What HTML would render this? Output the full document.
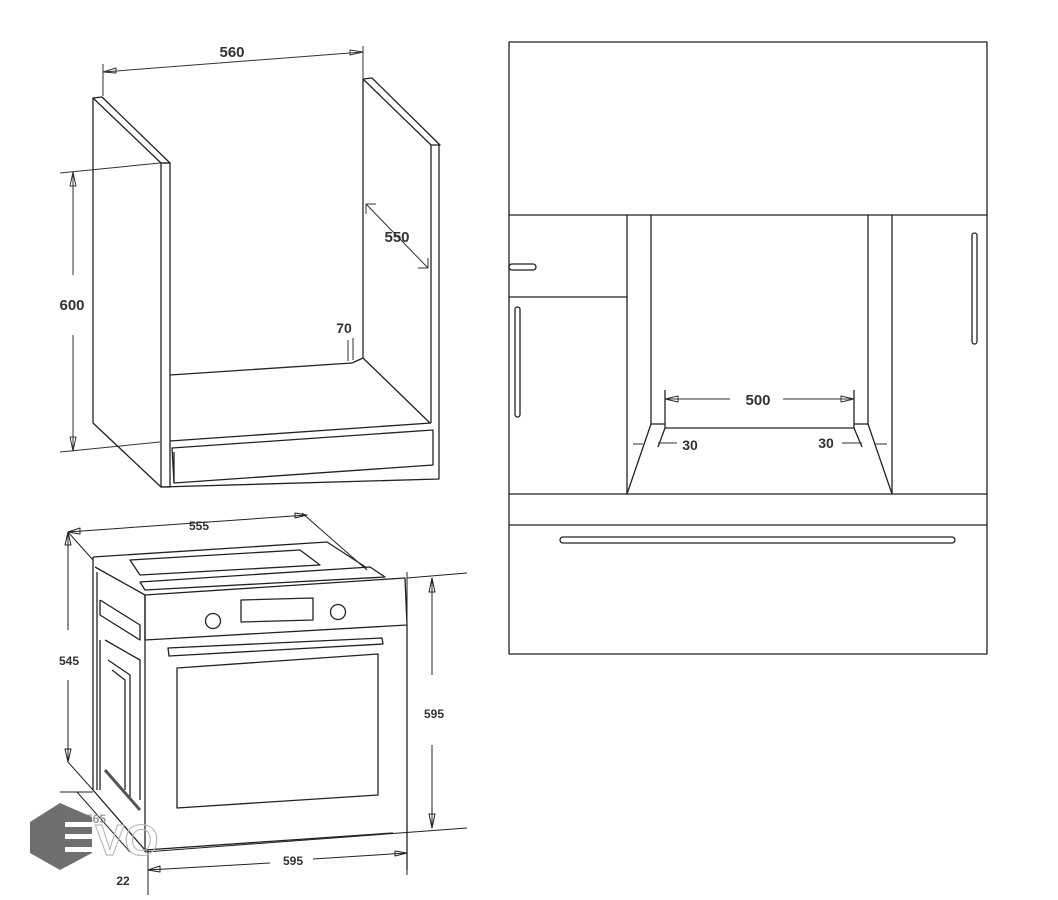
<!DOCTYPE html>
<html><head><style>
html,body{margin:0;padding:0;background:#fff;}
svg{display:block;}
text{font-family:"Liberation Sans",sans-serif;font-weight:bold;fill:#333;}
</style></head><body>
<svg width="1058" height="900" viewBox="0 0 1058 900" xmlns="http://www.w3.org/2000/svg">
<g fill="none" stroke="#222" stroke-width="1.3" stroke-linejoin="round">
<polygon points="93,98 102,97 170,163 161,163"/>
<polyline points="93,98 93,423 161,487"/>
<rect x="161" y="163" width="9" height="324"/>
<polyline points="161,487 439,479 439,145"/>
<polygon points="363,79 372,78 440,145 431,145"/>
<line x1="431" y1="145" x2="431" y2="423"/>
<line x1="363" y1="79" x2="363" y2="358"/>
<line x1="170" y1="375" x2="352" y2="363"/>
<line x1="352" y1="363" x2="363" y2="358"/>
<line x1="363" y1="358" x2="430" y2="423"/>
<line x1="170" y1="441" x2="431" y2="423"/>
<polygon points="172,448 433,430 433,465 174,483"/>
<line x1="174" y1="452" x2="174" y2="483"/>
<g stroke-width="1" stroke="#333">
<line x1="103" y1="72" x2="363" y2="52"/>
<line x1="103" y1="64" x2="103" y2="96"/>
<line x1="363" y1="46" x2="363" y2="78"/>
<polygon points="103,72 116,68 116,73"/>
<polygon points="363,52 350,50 350,55"/>
<line x1="60" y1="173" x2="160" y2="163"/>
<line x1="60" y1="452" x2="160" y2="442"/>
<line x1="73" y1="172" x2="73" y2="275"/>
<line x1="73" y1="335" x2="73" y2="451"/>
<polygon points="73,172 70,186 76,186"/>
<polygon points="73,451 70,437 76,437"/>
<line x1="366" y1="204" x2="428" y2="268"/>
<polyline points="366,214 366,204 376,204"/>
<polyline points="418,268 428,268 428,258"/>
<line x1="348" y1="340" x2="348" y2="361"/>
<line x1="353" y1="338" x2="353" y2="360"/>
</g>
<rect x="509" y="42" width="478" height="612"/>
<line x1="509" y1="215" x2="987" y2="215"/>
<line x1="509" y1="297" x2="627" y2="297"/>
<line x1="509" y1="494" x2="987" y2="494"/>
<line x1="509" y1="525" x2="987" y2="525"/>
<line x1="627" y1="215" x2="627" y2="494"/>
<line x1="651" y1="215" x2="651" y2="424"/>
<line x1="868" y1="215" x2="868" y2="424"/>
<line x1="892" y1="215" x2="892" y2="494"/>
<line x1="651" y1="424" x2="665" y2="424"/>
<line x1="854" y1="424" x2="868" y2="424"/>
<line x1="665" y1="428" x2="854" y2="428"/>
<line x1="651" y1="424" x2="627" y2="494"/>
<line x1="868" y1="424" x2="892" y2="494"/>
<line x1="665" y1="428" x2="658" y2="447"/>
<line x1="854" y1="428" x2="862" y2="447"/>
<line x1="665" y1="390" x2="665" y2="428"/>
<line x1="854" y1="390" x2="854" y2="428"/>
<rect x="509" y="264" width="27" height="6" rx="3"/>
<rect x="515" y="307" width="5" height="110" rx="2.5"/>
<rect x="972" y="233" width="5" height="111" rx="2.5"/>
<rect x="560" y="537" width="395" height="6" rx="3"/>
<g stroke-width="1" stroke="#333">
<line x1="665" y1="399" x2="730" y2="399"/>
<line x1="783" y1="399" x2="854" y2="399"/>
<polygon points="665,399 678,396 678,402"/>
<polygon points="854,399 841,396 841,402"/>
<line x1="633" y1="444" x2="643" y2="444"/>
<line x1="658" y1="443" x2="677" y2="443"/>
<line x1="842" y1="443" x2="862" y2="443"/>
<line x1="875" y1="444" x2="887" y2="444"/>
</g>
<g stroke-width="1">
<line x1="68" y1="532" x2="307" y2="515"/>
<line x1="68" y1="532" x2="93" y2="560"/>
<line x1="302" y1="513" x2="367" y2="570"/>
<polygon points="68,532 80,528 80,534"/>
<polygon points="307,515 295,513 295,518"/>
<line x1="68" y1="532" x2="68" y2="630"/>
<line x1="68" y1="680" x2="68" y2="762"/>
<polygon points="68,532 65,545 71,545"/>
<polygon points="68,762 65,749 71,749"/>
<line x1="68" y1="762" x2="93" y2="790"/>
<line x1="407" y1="578" x2="467" y2="573"/>
<line x1="145" y1="852" x2="467" y2="828"/>
<line x1="432" y1="578" x2="432" y2="675"/>
<line x1="432" y1="745" x2="432" y2="828"/>
<polygon points="432,578 429,592 435,592"/>
<polygon points="432,828 429,814 435,814"/>
<line x1="148" y1="870" x2="270" y2="863"/>
<line x1="313" y1="859" x2="407" y2="853"/>
<polygon points="148,870 160,866 160,872"/>
<polygon points="407,853 395,851 395,856"/>
<line x1="407" y1="572" x2="407" y2="875"/>
<line x1="148" y1="850" x2="148" y2="895"/>
<line x1="60" y1="792" x2="93" y2="792"/>
<line x1="77" y1="792" x2="130" y2="852"/>
</g>
<polyline points="93,557 327,542 367,568"/>
<line x1="93" y1="557" x2="93" y2="790"/>
<line x1="93" y1="790" x2="145" y2="850"/>
<line x1="95" y1="567" x2="145" y2="595"/>
<line x1="97" y1="572" x2="97" y2="790"/>
<polygon points="130,560 300,550 320,565 140,575"/>
<polygon points="140,582 370,567 385,577 145,590"/>
<polygon points="145,595 405,578 407,625 145,640"/>
<line x1="145" y1="595" x2="145" y2="852"/>
<line x1="407" y1="625" x2="407" y2="870"/>
<polygon points="241,600 313,598 313,620 241,622"/>
<circle cx="213" cy="621" r="7.5"/>
<circle cx="338" cy="612" r="7.5"/>
<polygon points="168,648 382,638 383,644 169,656"/>
<polygon points="177,668 378,654 378,795 177,808"/>
<line x1="145" y1="850" x2="393" y2="833"/>
<polyline points="100,600 140,625 140,640 100,615 100,600"/>
<polyline points="105,640 140,660 140,800"/>
<polyline points="108,660 130,675 130,800"/>
<polyline points="112,670 125,680 125,790"/>
<line x1="100" y1="640" x2="100" y2="790"/>
<line x1="105" y1="770" x2="140" y2="810" stroke-width="3" stroke="#555"/>
</g>
<text x="232" y="57" font-size="15" text-anchor="middle">560</text>
<text x="72" y="310" font-size="15" text-anchor="middle">600</text>
<text x="397" y="242" font-size="15" text-anchor="middle">550</text>
<text x="344" y="333" font-size="14" text-anchor="middle">70</text>
<text x="758" y="405" font-size="15" text-anchor="middle">500</text>
<text x="690" y="450" font-size="14" text-anchor="middle">30</text>
<text x="826" y="448" font-size="14" text-anchor="middle">30</text>
<text x="199" y="530" font-size="12" text-anchor="middle">555</text>
<text x="69" y="665" font-size="12" text-anchor="middle">545</text>
<text x="434" y="718" font-size="12" text-anchor="middle">595</text>
<text x="293" y="865" font-size="12" text-anchor="middle">595</text>
<text x="123" y="885" font-size="12" text-anchor="middle">22</text>
<text x="96" y="823" font-size="12" text-anchor="middle" style="fill:#999">565</text>
<polygon points="60,803 92,817 92,853 60,870 30,853 30,822" fill="#6f6f6f"/>
<rect x="65" y="822" width="28" height="5" fill="#fff"/>
<rect x="65" y="834" width="28" height="5" fill="#fff"/>
<rect x="65" y="847" width="28" height="5" fill="#fff"/>
<text x="95" y="855" font-size="44" font-weight="normal" style="fill:none;stroke:#bbb;stroke-width:1.2">VO</text>
</svg>
</body></html>
